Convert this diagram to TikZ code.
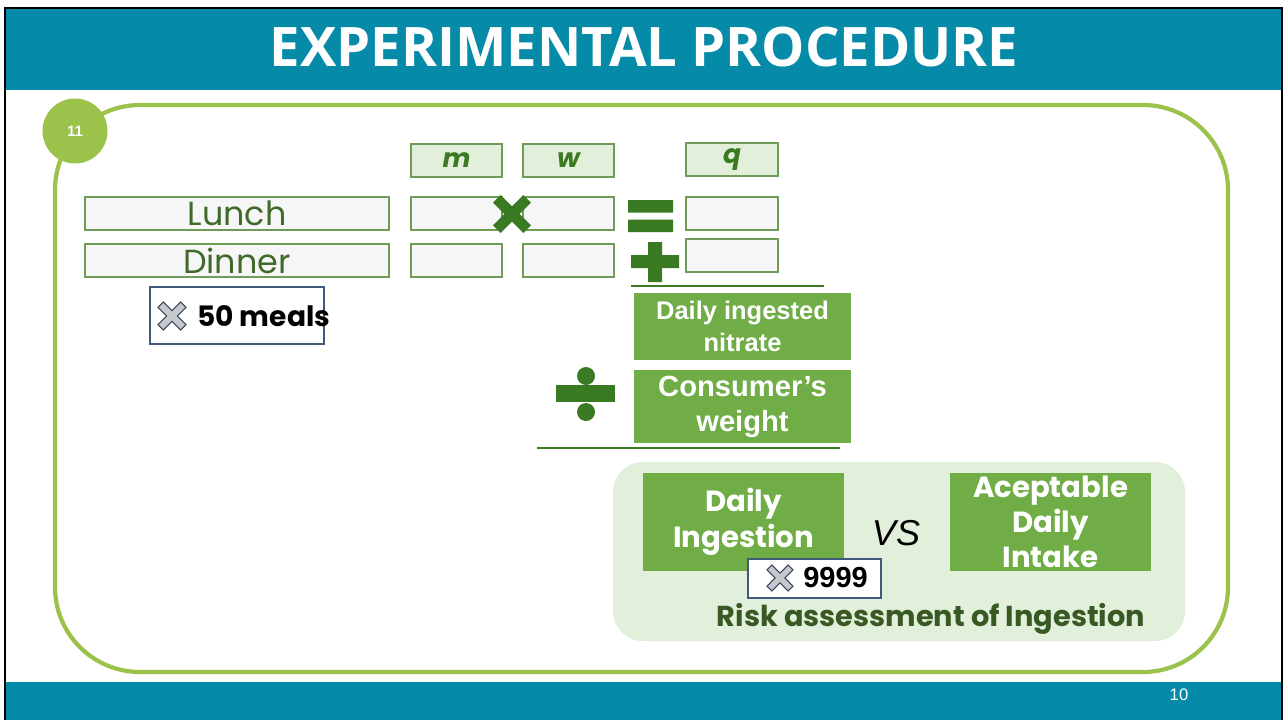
\documentclass[tikz,border=0pt]{standalone}
\usepackage{fontspec}
\setmainfont{Poppins}
\newfontfamily\arialf{Liberation Sans}
\newfontfamily\titlef{Open Sans}
\usetikzlibrary{positioning}

\definecolor{tealbar}{RGB}{5,138,168}
\definecolor{ringgreen}{RGB}{155,195,75}
\definecolor{boxgreen}{RGB}{112,173,71}
\definecolor{darkgreen}{RGB}{58,122,35}
\definecolor{lightgreen}{RGB}{226,239,218}
\definecolor{cellfill}{RGB}{246,246,246}
\definecolor{cellline}{RGB}{110,155,85}
\definecolor{textgreen}{RGB}{64,106,42}
\definecolor{riskgreen}{RGB}{56,88,36}
\definecolor{slate}{RGB}{65,89,122}
\definecolor{xgray}{RGB}{200,200,204}

\tikzset{
  xmark/.pic={\path[pic actions] (0,#1) -- (1-#1,1) -- (1,1-#1) -- (#1,0) -- (1,-1+#1) -- (1-#1,-1)
    -- (0,-#1) -- (-1+#1,-1) -- (-1,-1+#1) -- (-#1,0) -- (-1,1-#1) -- (-1+#1,1) -- cycle;}
}

\begin{document}
\begin{tikzpicture}[x=0.02cm,y=-0.02cm,
    cell/.style={draw=cellline,fill=cellfill,line width=0.9pt,inner sep=0pt,
      minimum width=1.82cm,minimum height=0.66cm},
    head/.style={cell,fill=lightgreen,text=darkgreen,font=\fontsize{15}{18}\selectfont\bfseries\itshape},
    meal/.style={cell,minimum width=6.08cm,text=textgreen,font=\fontsize{19}{22}\selectfont},
    greenbox/.style={fill=boxgreen,text=white,align=center,inner sep=0pt},
    tagbox/.style={draw=slate,fill=white,line width=0.7pt,inner sep=0pt},
    xicon/.style={fill=xgray,draw=slate!80!black,line width=0.6pt},
    rule/.style={draw=darkgreen,line width=0.8pt}]
\useasboundingbox (0,0) rectangle (1285,720);

% slide frame and bars
\fill[white] (0,0) rectangle (1285,720);
\fill[tealbar] (6,9) rectangle (1281,90);
\fill[tealbar] (6,682) rectangle (1281,720);
\draw[black,line width=1.4pt] (5,722) -- (5,8) -- (1282,8) -- (1282,722);
\node[text=white,font=\titlef\fontsize{31}{35}\selectfont\bfseries] (title) at (644,47) {EXPERIMENTAL PROCEDURE};
\node[text=white,font=\arialf\fontsize{9.5}{11}\selectfont] (page) at (1179,695) {10};

% green frame
\draw[ringgreen,line width=2.4pt,rounded corners=1.7cm] (55,105) rectangle (1228,672);
\node[circle,fill=ringgreen,minimum size=1.3cm,inner sep=0pt,text=white,
  font=\arialf\fontsize{8.5}{10}\selectfont\bfseries] (step) at (75,131) {11};

% meals and headers
\node[meal] (lunch) at (237,213.5) {Lunch};
\node[meal] (dinner) at (237,260.5) {Dinner};
\node[head] (m) at (456.5,160.5) {m};
\node[head] (w) at (568.5,160.5) {w};
\node[head,minimum width=1.84cm] (q) at (732,159.5) {q};
\node[cell] (m1) at (456.5,213.5) {};
\node[cell] (w1) at (568.5,213.5) {};
\node[cell] (m2) at (456.5,260.5) {};
\node[cell] (w2) at (568.5,260.5) {};
\node[cell,minimum width=1.84cm] (q1) at (732,213.5) {};
\node[cell,minimum width=1.84cm] (q2) at (732,255.5) {};

% operators
\pic[fill=darkgreen,scale=19] at (512,214) {xmark=0.4};
\fill[darkgreen] (628,200) rectangle (673,212.5) (628,219.5) rectangle (673,232);
\fill[darkgreen] (648,242) rectangle (662,282) (631,255) rectangle (679,268);
\fill[darkgreen] (556,385) rectangle (615,402);
\fill[darkgreen] (586,376) circle (9) (586,412) circle (9);

% fraction
\coordinate (r1a) at (631,286);
\coordinate (r1b) at (824,286);
\draw[rule] (r1a) -- (r1b);
\node[greenbox,minimum width=4.34cm,minimum height=1.34cm,
  font=\arialf\fontsize{14.5}{18}\selectfont\bfseries] (nitrate) at (742.5,326.5) {Daily ingested\\nitrate};
\node[greenbox,minimum width=4.34cm,minimum height=1.46cm,
  font=\arialf\fontsize{16.6}{20}\selectfont\bfseries] (weight) at (742.5,406.5) {Consumer’s\\weight};
\coordinate (r2a) at (537,448);
\coordinate (r2b) at (840,448);
\draw[rule] (r2a) -- (r2b);

% 50 meals tag
\node[tagbox,minimum width=3.48cm,minimum height=1.14cm] (meals) at (237,315.5) {};
\pic[xicon,scale=14] at (172,316) {xmark=0.38};
\node[anchor=west,inner sep=0pt,font=\fontsize{16}{19}\selectfont\bfseries] (mealsTxt) at (197,316) {50 meals};

% risk assessment
\fill[lightgreen,rounded corners=0.6cm] (613,462) rectangle (1185,641);
\node[greenbox,minimum width=4.02cm,minimum height=1.96cm,
  font=\fontsize{16.6}{20.5}\selectfont\bfseries] (ingest) at (743.5,522) {Daily\\Ingestion};
\node[greenbox,minimum width=4.02cm,minimum height=1.96cm,
  font=\fontsize{16.6}{20}\selectfont\bfseries] (adi) at (1050.5,522) {Aceptable\\Daily\\Intake};
\node[font=\arialf\fontsize{20.5}{24}\selectfont\itshape] (vs) at (896,533) {VS};
\node[tagbox,minimum width=2.66cm,minimum height=0.78cm] (tag) at (814.5,578.5) {};
\pic[xicon,scale=13] at (780,578) {xmark=0.38};
\node[anchor=west,inner sep=0pt,font=\arialf\fontsize{16.5}{19}\selectfont\bfseries] (tagTxt) at (803,578) {9999};
\node[text=riskgreen,font=\fontsize{16.4}{19}\selectfont\bfseries] (risk) at (931,619) {Risk assessment of Ingestion};
\end{tikzpicture}
\end{document}
